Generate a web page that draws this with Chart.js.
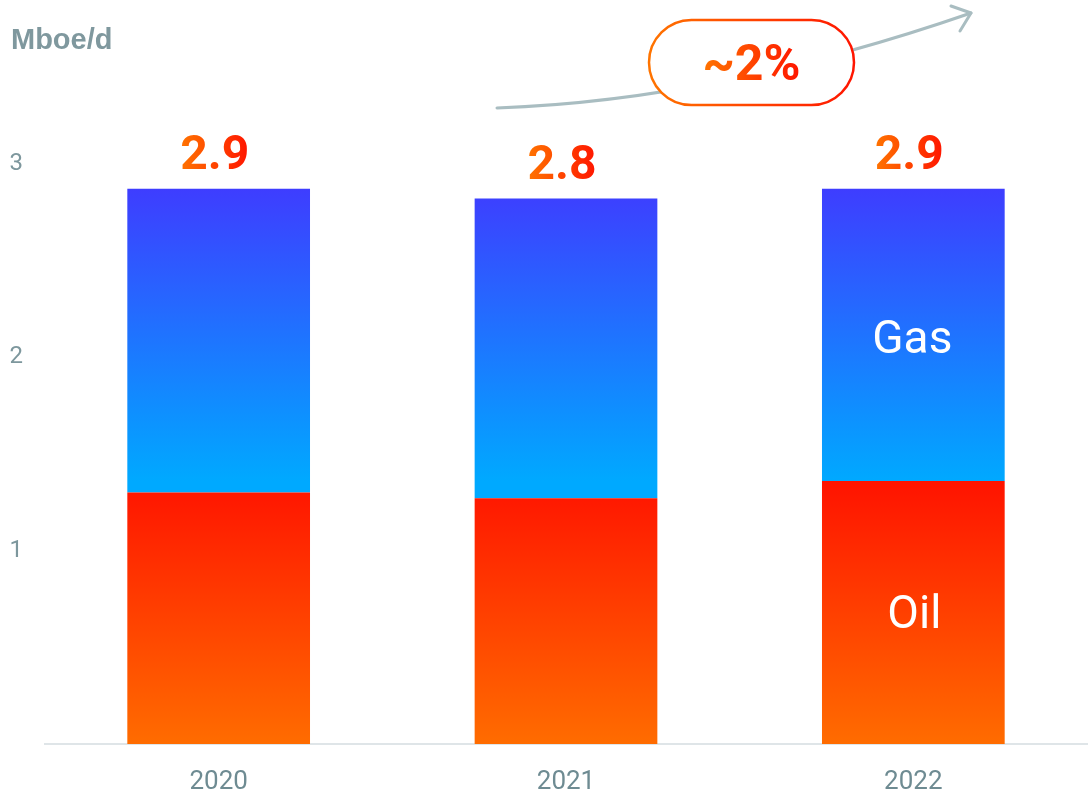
<!DOCTYPE html>
<html>
<head>
<meta charset="utf-8">
<title>Production</title>
<script src="https://cdn.jsdelivr.net/npm/chart.js@4"></script>
<style>
  html, body { margin: 0; padding: 0; background: #fff; }
  #wrap { width: 1089px; height: 800px; }
</style>
</head>
<body>
<div id="wrap"><canvas id="prodChart" width="1089" height="800"></canvas></div>
<script>
const years = ['2020', '2021', '2022'];
const oil = [1.30, 1.27, 1.36];
const gas = [1.57, 1.55, 1.51];
const yTicks = [1, 2, 3];
const unitLabel = 'Mboe/d';
const growthLabel = '~2%';

// top / bottom colour of each stacked segment
const fills = {
  Oil: ['#ff1300', '#ff6c00'],
  Gas: ['#3e3dff', '#00a9ff']
};

function hGradient(c, x0, x1) {
  const g = c.createLinearGradient(x0, 0, x1, 0);
  g.addColorStop(0, '#ff7400');
  g.addColorStop(1, '#ff1500');
  return g;
}

// give every bar segment its own vertical gradient once positions are known
const barGradients = {
  id: 'barGradients',
  beforeDatasetsDraw(chart) {
    const c = chart.ctx;
    chart.data.datasets.forEach((ds, di) => {
      const stops = fills[ds.label];
      chart.getDatasetMeta(di).data.forEach(bar => {
        if (!isFinite(bar.y) || !isFinite(bar.base)) return;
        const g = c.createLinearGradient(0, bar.y, 0, bar.base);
        g.addColorStop(0, stops[0]);
        g.addColorStop(1, stops[1]);
        bar.options.backgroundColor = g;
      });
    });
  }
};

const overlay = {
  id: 'overlay',
  afterDatasetsDraw(chart) {
    const c = chart.ctx;
    const x = chart.scales.x;
    const y = chart.scales.y;
    c.save();

    // unit title
    c.font = 'bold 29px "Liberation Sans", Arial, sans-serif';
    c.fillStyle = '#7f989e';
    c.textAlign = 'left';
    c.textBaseline = 'alphabetic';
    c.fillText(unitLabel, 11, 49);

    // totals above each bar
    c.font = 'bold 48px Roboto, sans-serif';
    c.textAlign = 'center';
    years.forEach((yr, i) => {
      const total = oil[i] + gas[i];
      const txt = total.toFixed(1);
      const cx = x.getPixelForValue(i) - 4;
      const w = c.measureText(txt).width;
      c.fillStyle = hGradient(c, cx - w / 2, cx + w / 2);
      c.fillText(txt, cx, y.getPixelForValue(total) - 20);
    });

    // segment names on the last bar
    const last = years.length - 1;
    const lx = x.getPixelForValue(last) - 1;
    c.font = '46px Roboto, sans-serif';
    c.fillStyle = '#ffffff';
    c.textBaseline = 'middle';
    c.fillText('Gas', lx, (y.getPixelForValue(oil[last]) + y.getPixelForValue(oil[last] + gas[last])) / 2 + 7);
    c.fillText('Oil', lx + 2, (y.getPixelForValue(0) + y.getPixelForValue(oil[last])) / 2 + 4);

    // growth arrow
    c.strokeStyle = '#a9bdc1';
    c.lineWidth = 3;
    c.lineCap = 'round';
    c.lineJoin = 'round';
    c.beginPath();
    c.moveTo(497, 108);
    c.quadraticCurveTo(720, 100, 971, 13);
    c.stroke();
    c.beginPath();
    c.moveTo(951, 6);
    c.lineTo(971, 13);
    c.lineTo(960, 31);
    c.stroke();

    // growth pill
    const px = 649, py = 20, pw = 205, ph = 85, r = ph / 2;
    c.beginPath();
    c.roundRect(px, py, pw, ph, r);
    c.fillStyle = '#ffffff';
    c.fill();
    c.lineWidth = 2.5;
    c.strokeStyle = hGradient(c, px, px + pw);
    c.stroke();

    c.font = 'bold 50px Roboto, sans-serif';
    c.textBaseline = 'alphabetic';
    const gw = c.measureText(growthLabel).width;
    const gx = px + pw / 2;
    c.fillStyle = hGradient(c, gx - gw / 2, gx + gw / 2);
    c.fillText(growthLabel, gx, 80);

    c.restore();
  }
};

new Chart(document.getElementById('prodChart'), {
  type: 'bar',
  data: {
    labels: years,
    datasets: [
      { label: 'Oil', data: oil, backgroundColor: fills.Oil[1] },
      { label: 'Gas', data: gas, backgroundColor: fills.Gas[1] }
    ]
  },
  options: {
    responsive: false,
    animation: false,
    layout: { padding: { top: 67, right: 2, left: 0, bottom: 0 } },
    datasets: {
      bar: { barPercentage: 0.526, categoryPercentage: 1, borderWidth: 0 }
    },
    plugins: {
      legend: { display: false },
      tooltip: { enabled: false }
    },
    scales: {
      x: {
        stacked: true,
        grid: { display: false },
        border: { display: true, color: '#dfe5e8', width: 2 },
        ticks: {
          color: '#6e8b92',
          font: { family: 'Roboto', size: 26 },
          padding: 15
        },
        afterFit: s => { s.height = 56; }
      },
      y: {
        stacked: true,
        min: 0,
        max: 3.5,
        grid: { display: false },
        border: { display: false },
        ticks: {
          stepSize: 1,
          color: '#7d979d',
          font: { family: 'Roboto', size: 24 },
          padding: 14,
          callback: v => (yTicks.includes(v) ? String(v) : '')
        },
        afterFit: s => { s.width = 45; }
      }
    }
  },
  plugins: [barGradients, overlay]
});
</script>
</body>
</html>
